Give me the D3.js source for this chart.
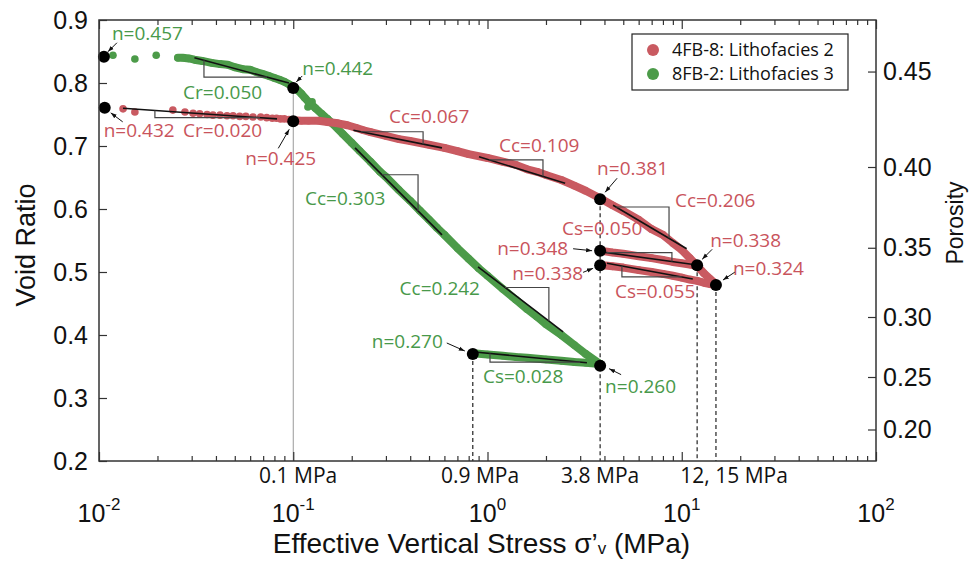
<!DOCTYPE html>
<html>
<head>
<meta charset="utf-8">
<script src="https://cdn.jsdelivr.net/npm/d3@7"></script>
<style>
  body { margin: 0; background: #fff; }
  svg { display: block; }
  .axis text { font-family: "Liberation Sans", Arial, sans-serif; font-size: 25px; fill: #111; }
  .axis line { stroke: #333; stroke-width: 1.2; }
  .axis path { display: none; }
  .note { font-family: "Open Sans", sans-serif; font-size: 19px; }
</style>
</head>
<body>
<div id="chart"></div>
<script>
// ---- data (stress in MPa, void ratio) ----
const redSparseStress = [0.0133, 0.0153, 0.024, 0.0277, 0.0305, 0.033, 0.036, 0.0386, 0.042, 0.0456, 0.049, 0.053, 0.057, 0.062, 0.068, 0.073, 0.078, 0.082, 0.086, 0.09, 0.095];
const redSparseVoid = [0.759, 0.754, 0.757, 0.754, 0.752, 0.751, 0.750, 0.749, 0.749, 0.748, 0.748, 0.747, 0.747, 0.746, 0.746, 0.745, 0.744, 0.744, 0.743, 0.743, 0.742];

const redLoadStress = [0.1, 0.11, 0.12, 0.135, 0.15, 0.17, 0.19, 0.21, 0.23, 0.25, 0.3, 0.35, 0.4, 0.5, 0.6, 0.7, 0.8, 1.0, 1.2, 1.4, 1.6, 1.8, 2.0, 2.4, 2.8, 3.2, 3.8, 4.4, 5, 6, 7, 8, 9, 10, 11, 12, 13, 14, 15];
const redLoadVoid = [0.741, 0.740, 0.740, 0.740, 0.738, 0.736, 0.733, 0.729, 0.725, 0.722, 0.716, 0.711, 0.708, 0.702, 0.697, 0.692, 0.687, 0.681, 0.675, 0.670, 0.663, 0.659, 0.654, 0.646, 0.637, 0.629, 0.617, 0.606, 0.597, 0.583, 0.568, 0.559, 0.546, 0.535, 0.522, 0.510, 0.498, 0.489, 0.481];

const redUnloadAStress = [12, 11, 10, 9, 8, 7, 6, 5, 4.4, 3.8];
const redUnloadAVoid = [0.510, 0.512, 0.514, 0.516, 0.519, 0.522, 0.525, 0.529, 0.531, 0.534];
const redUnloadBStress = [15, 14, 13, 12, 11, 10, 9, 8, 7, 6, 5, 4.4, 3.8];
const redUnloadBVoid = [0.479, 0.481, 0.483, 0.486, 0.488, 0.491, 0.494, 0.497, 0.500, 0.503, 0.507, 0.509, 0.511];

const greenSparseStress = [0.0118, 0.0153, 0.0197, 0.119, 0.125];
const greenSparseVoid = [0.844, 0.838, 0.844, 0.762, 0.770];

const greenLoadStress = [0.0255, 0.027, 0.029, 0.031, 0.034, 0.038, 0.042, 0.046, 0.05, 0.055, 0.06, 0.065, 0.07, 0.075, 0.08, 0.085, 0.09, 0.095, 0.1, 0.105, 0.11, 0.115, 0.12, 0.13, 0.14, 0.15, 0.16, 0.18, 0.2, 0.22, 0.25, 0.28, 0.3, 0.35, 0.4, 0.45, 0.5, 0.55, 0.6, 0.7, 0.8, 0.9, 1.0, 1.2, 1.4, 1.6, 1.8, 2.0, 2.4, 2.8, 3.2, 3.8];
const greenLoadVoid = [0.840, 0.840, 0.839, 0.837, 0.835, 0.832, 0.830, 0.829, 0.825, 0.822, 0.821, 0.817, 0.814, 0.811, 0.808, 0.805, 0.802, 0.798, 0.794, 0.789, 0.783, 0.776, 0.770, 0.760, 0.751, 0.743, 0.735, 0.719, 0.705, 0.692, 0.675, 0.659, 0.651, 0.630, 0.613, 0.597, 0.583, 0.570, 0.559, 0.538, 0.521, 0.506, 0.494, 0.473, 0.456, 0.441, 0.429, 0.417, 0.400, 0.384, 0.370, 0.354];

const greenUnloadStress = [3.8, 3.2, 2.8, 2.4, 2.0, 1.6, 1.4, 1.2, 1.0, 0.84];
const greenUnloadVoid = [0.354, 0.356, 0.357, 0.359, 0.361, 0.364, 0.365, 0.367, 0.369, 0.371];

// key points, given as porosity n (void ratio e = n / (1 - n))
const redDotStress = [0.0107, 0.1, 3.8, 12, 15, 3.8, 3.8];
const redDotPorosity = [0.432, 0.425, 0.381, 0.338, 0.324, 0.348, 0.338];
const greenDotStress = [0.0106, 0.1, 3.8, 0.84];
const greenDotPorosity = [0.457, 0.442, 0.260, 0.270];

// vertical guides
const guideStress = [0.1, 0.84, 3.8, 12, 15];
const guideTopPorosity = [0.442, 0.270, 0.381, 0.338, 0.324];

// fitted compression / swelling lines
const fitSeries = ["g", "g", "g", "g", "r", "r", "r", "r", "r", "r"];
const fitLabels = ["Cr=0.050", "Cc=0.303", "Cc=0.242", "Cs=0.028", "Cr=0.020", "Cc=0.067", "Cc=0.109", "Cc=0.206", "Cs=0.050", "Cs=0.055"];
const fitStress0 = [0.031, 0.208, 0.894, 0.86, 0.0133, 0.204, 0.904, 4.43, 3.86, 4.12];
const fitVoid0 = [0.840, 0.697, 0.508, 0.373, 0.760, 0.725, 0.683, 0.606, 0.532, 0.514];
const fitStress1 = [0.095, 0.583, 2.45, 3.25, 0.0825, 0.583, 2.51, 10.6, 12, 11.4];
const fitVoid1 = [0.800, 0.559, 0.405, 0.356, 0.743, 0.697, 0.641, 0.537, 0.511, 0.489];
const triStress0 = [0.0347, 0.286, 1.23, 1.03, 0.0194, 0.223, 1.02, 4.59, 4.1, 4.92];
const triStress1 = [0.0733, 0.439, 2.07, 3.0, 0.0674, 0.466, 1.93, 8.6, 8.9, 10];
const triSide = ["below", "above", "above", "below", "below", "above", "above", "above", "above", "below"];
const fitLabelStress = [0.0271, 0.115, 0.915, 0.948, 0.0271, 0.311, 1.146, 9.23, 2.42, 4.53];
const fitLabelVoid = [0.775, 0.606, 0.463, 0.324, 0.714, 0.737, 0.690, 0.603, 0.559, 0.459];
const fitLabelAnchor = ["start", "start", "end", "start", "start", "start", "start", "start", "start", "start"];

const xMajor = [0.01, 0.1, 1, 10, 100];
const xMajorExp = ["-2", "-1", "0", "1", "2"];
const voidTicks = [0.2, 0.3, 0.4, 0.5, 0.6, 0.7, 0.8, 0.9];
const porosityTicks = [0.20, 0.25, 0.30, 0.35, 0.40, 0.45];
const mpaLabels = ["0.1 MPa", "0.9 MPa", "3.8 MPa", "12, 15 MPa"];
const mpaLabelStress = [0.106, 0.915, 3.8, 18.6];
const legendNames = ["4FB-8: Lithofacies 2", "8FB-2: Lithofacies 3"];

// ---- layout ----
const W = 974, H = 564;
const margin = { top: 20, right: 98, bottom: 103, left: 99 };
const width = W - margin.left - margin.right;
const height = H - margin.top - margin.bottom;
const RED = "#c95a61", GREEN = "#4c9b49";
const RED_TXT = "#c9545c", GREEN_TXT = "#48994a";

// label / arrow offsets (px) for the porosity notes, in the same order as the dot arrays
const redNoteLayout = [
  { dx: -1, dy: 29, anchor: "start", tail: [18, 14], head: [6, 5] },
  { dx: -48, dy: 44, anchor: "start", tail: [-15, 27], head: [-4, 8] },
  { dx: -3, dy: -24, anchor: "start", tail: [17, -21], head: [5, -7] },
  { dx: 13, dy: -18, anchor: "start", tail: [15, -16], head: [5, -6] },
  { dx: 17, dy: -10, anchor: "start", tail: [19, -13], head: [7, -5] },
  { dx: -32, dy: 4, anchor: "end", tail: [-27, -2], head: [-8, 0] },
  { dx: -17, dy: 15, anchor: "end", tail: [-17, 7], head: [-7, 3] }
];
const greenNoteLayout = [
  { dx: 8, dy: -17, anchor: "start", tail: [13, -14], head: [4, -5] },
  { dx: 9, dy: -13, anchor: "start", tail: [9, -12], head: [3, -6] },
  { dx: 5, dy: 27, anchor: "start", tail: [21, 9], head: [9, 3] },
  { dx: -30, dy: -6, anchor: "end", tail: [-26, -11], head: [-8, -3] }
];

const toVoid = n => n / (1 - n);
const zip = (a, b) => a.map((v, i) => [v, b[i]]);

const svg = d3.select("#chart").append("svg")
  .attr("width", W).attr("height", H);

svg.append("defs").append("marker")
  .attr("id", "arrow")
  .attr("viewBox", "0 0 10 10")
  .attr("refX", 10).attr("refY", 5)
  .attr("markerWidth", 6).attr("markerHeight", 6)
  .attr("orient", "auto")
  .append("path").attr("d", "M0,1.5L10,5L0,8.5z").attr("fill", "#111");

const g = svg.append("g").attr("transform", `translate(${margin.left},${margin.top})`);

const x = d3.scaleLog().domain([0.01, 100]).range([0, width]);
const y = d3.scaleLinear().domain([0.2, 0.9]).range([height, 0]);

// guides
guideStress.forEach((s, i) => {
  g.append("line")
    .attr("x1", x(s)).attr("x2", x(s))
    .attr("y1", y(toVoid(guideTopPorosity[i]))).attr("y2", height)
    .attr("stroke", i === 0 ? "#999" : "#222")
    .attr("stroke-width", i === 0 ? 1 : 1.2)
    .attr("stroke-dasharray", i === 0 ? null : "4,3");
});

// series
const line = d3.line().x(d => x(d[0])).y(d => y(d[1]));

function drawSeries(color, sparse, branches) {
  const s = g.append("g");
  branches.forEach(b => {
    s.append("path").datum(b).attr("d", line)
      .attr("fill", "none").attr("stroke", color)
      .attr("stroke-width", 8).attr("stroke-linejoin", "round").attr("stroke-linecap", "round");
  });
  s.selectAll("circle")
    .data(sparse.concat(...branches))
    .enter().append("circle")
    .attr("cx", d => x(d[0])).attr("cy", d => y(d[1]))
    .attr("r", 3.8).attr("fill", color);
}

drawSeries(GREEN, zip(greenSparseStress, greenSparseVoid),
  [zip(greenLoadStress, greenLoadVoid), zip(greenUnloadStress, greenUnloadVoid)]);
drawSeries(RED, zip(redSparseStress, redSparseVoid),
  [zip(redLoadStress, redLoadVoid), zip(redUnloadAStress, redUnloadAVoid), zip(redUnloadBStress, redUnloadBVoid)]);

// fitted lines with slope triangles
fitLabels.forEach((lab, i) => {
  const l0 = Math.log10(fitStress0[i]), l1 = Math.log10(fitStress1[i]);
  const eAt = s => fitVoid0[i] + (fitVoid1[i] - fitVoid0[i]) * (Math.log10(s) - l0) / (l1 - l0);
  g.append("line")
    .attr("x1", x(fitStress0[i])).attr("y1", y(fitVoid0[i]))
    .attr("x2", x(fitStress1[i])).attr("y2", y(fitVoid1[i]))
    .attr("stroke", "#111").attr("stroke-width", 1.6);
  const a = triStress0[i], b = triStress1[i];
  const pts = triSide[i] === "above"
    ? [[a, eAt(a)], [b, eAt(a)], [b, eAt(b)]]
    : [[a, eAt(a)], [a, eAt(b)], [b, eAt(b)]];
  g.append("path").datum(pts).attr("d", line)
    .attr("fill", "none").attr("stroke", "#444").attr("stroke-width", 1.2);
  g.append("text").attr("class", "note")
    .attr("x", x(fitLabelStress[i])).attr("y", y(fitLabelVoid[i]))
    .attr("text-anchor", fitLabelAnchor[i])
    .attr("fill", fitSeries[i] === "r" ? RED_TXT : GREEN_TXT)
    .text(lab);
});

// key points with porosity notes
function drawKeyPoints(stress, porosity, layout, color) {
  stress.forEach((s, i) => {
    const cx = x(s), cy = y(toVoid(porosity[i])), L = layout[i];
    g.append("line")
      .attr("x1", cx + L.tail[0]).attr("y1", cy + L.tail[1])
      .attr("x2", cx + L.head[0]).attr("y2", cy + L.head[1])
      .attr("stroke", "#111").attr("stroke-width", 1)
      .attr("marker-end", "url(#arrow)");
    g.append("text").attr("class", "note")
      .attr("x", cx + L.dx).attr("y", cy + L.dy)
      .attr("text-anchor", L.anchor).attr("fill", color)
      .text("n=" + d3.format(".3f")(porosity[i]));
  });
  g.append("g").selectAll("circle")
    .data(zip(stress, porosity)).enter().append("circle")
    .attr("cx", d => x(d[0])).attr("cy", d => y(toVoid(d[1])))
    .attr("r", 6).attr("fill", "#000");
}
drawKeyPoints(greenDotStress, greenDotPorosity, greenNoteLayout, GREEN_TXT);
drawKeyPoints(redDotStress, redDotPorosity, redNoteLayout, RED_TXT);

// axes
const minor = x.ticks().filter(t => !xMajor.some(m => Math.abs(m - t) / m < 1e-6));

g.append("g").attr("class", "axis").attr("transform", `translate(0,${height})`)
  .call(d3.axisBottom(x).tickValues(xMajor).tickSize(-9).tickFormat(""));
g.append("g").attr("class", "axis").attr("transform", `translate(0,${height})`)
  .call(d3.axisBottom(x).tickValues(minor).tickSize(-5).tickFormat(""));
g.append("g").attr("class", "axis")
  .call(d3.axisTop(x).tickValues(xMajor).tickSize(-9).tickFormat(""));
g.append("g").attr("class", "axis")
  .call(d3.axisTop(x).tickValues(minor).tickSize(-5).tickFormat(""));

g.append("g").attr("class", "axis")
  .call(d3.axisLeft(y).tickValues(voidTicks).tickSize(-8).tickPadding(11).tickFormat(d3.format(".1f")));

g.append("g").attr("class", "axis").attr("transform", `translate(${width},0)`)
  .call(d3.axisRight(y).tickValues(porosityTicks.map(toVoid)).tickSize(-8).tickPadding(7)
    .tickFormat(e => d3.format(".2f")(e / (1 + e))));

// frame
g.append("rect").attr("width", width).attr("height", height)
  .attr("fill", "none").attr("stroke", "#333").attr("stroke-width", 1.5);

// decade labels
const dec = g.append("g").attr("class", "axis");
xMajor.forEach((v, i) => {
  const t = dec.append("text").attr("x", x(v)).attr("y", height + 61).attr("text-anchor", "middle");
  t.append("tspan").text("10");
  t.append("tspan").attr("dy", -12).style("font-size", "17px").text(xMajorExp[i]);
});

// MPa labels
mpaLabels.forEach((lab, i) => {
  g.append("text").attr("class", "note")
    .attr("x", x(mpaLabelStress[i])).attr("y", height + 22)
    .attr("text-anchor", "middle").style("font-size", "21px").attr("fill", "#111")
    .text(lab);
});

// axis titles
const title = svg.append("text")
  .attr("x", margin.left + width / 2 - 6).attr("y", 553)
  .attr("text-anchor", "middle")
  .attr("font-family", "Liberation Sans, Arial, sans-serif").attr("font-size", 28).attr("fill", "#111");
title.append("tspan").text("Effective Vertical Stress σ’");
title.append("tspan").attr("font-size", 17).attr("dy", 1).text("v");
title.append("tspan").attr("dy", -1).text(" (MPa)");

svg.append("text")
  .attr("transform", `translate(35,245) rotate(-90)`)
  .attr("text-anchor", "middle")
  .attr("font-family", "Liberation Sans, Arial, sans-serif").attr("font-size", 27).attr("fill", "#111")
  .text("Void Ratio");

svg.append("text")
  .attr("transform", `translate(963,223) rotate(-90)`)
  .attr("text-anchor", "middle")
  .attr("font-family", "Liberation Sans, Arial, sans-serif").attr("font-size", 23).attr("fill", "#111")
  .text("Porosity");

// legend
const leg = svg.append("g").attr("transform", "translate(632,34)");
leg.append("rect").attr("width", 216).attr("height", 56)
  .attr("fill", "#fff").attr("stroke", "#222").attr("stroke-width", 1.2);
legendNames.forEach((name, i) => {
  leg.append("circle").attr("cx", 21).attr("cy", 16 + i * 24).attr("r", 6)
    .attr("fill", i === 0 ? RED : GREEN);
  leg.append("text").attr("class", "note").attr("x", 40).attr("y", 22 + i * 24)
    .attr("fill", "#111").style("font-size", "18px").text(name);
});
</script>
</body>
</html>
